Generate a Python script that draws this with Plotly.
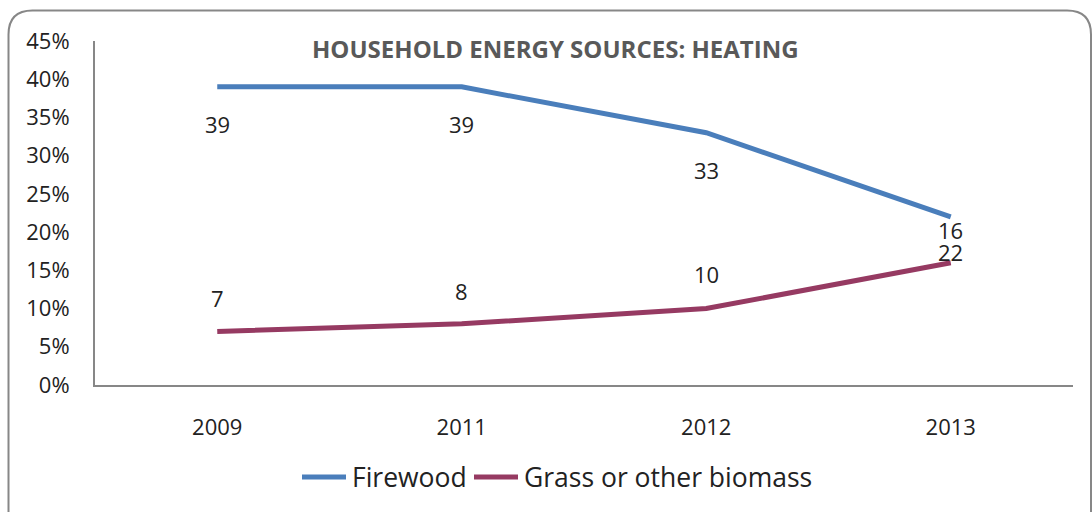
import plotly.graph_objects as go

years = ['2009', '2011', '2012', '2013']
firewood = [39, 39, 33, 22]
grass = [7, 8, 10, 16]
# data labels as printed on the original chart (the 2013 pair is swapped there)
firewood_labels = ['39', '39', '33', '16']
grass_labels = ['7', '8', '10', '22']
series_names = ['Firewood', 'Grass or other biomass']

W, H = 1092, 512
L, R, T, B = 95, 19, 41, 127
FONT = 'Open Sans'
BLUE = '#4A7EBB'
PLUM = '#963A62'
TXT = '#222222'

fig = go.Figure()
fig.add_trace(go.Scatter(x=years, y=[v / 100 for v in firewood], name=series_names[0],
                         mode='lines', line=dict(color=BLUE, width=5), showlegend=False))
fig.add_trace(go.Scatter(x=years, y=[v / 100 for v in grass], name=series_names[1],
                         mode='lines', line=dict(color=PLUM, width=5), showlegend=False))

# label offsets (pixels) - below for firewood, above for grass
fw_shift = [-37, -37, -37, -13]
gr_shift = [33, 33, 35, 11]
for i in range(len(years)):
    fig.add_annotation(x=i, y=firewood[i] / 100, text=firewood_labels[i], showarrow=False,
                       yshift=fw_shift[i], font=dict(size=22, color=TXT, family=FONT))
    fig.add_annotation(x=i, y=grass[i] / 100, text=grass_labels[i], showarrow=False,
                       yshift=gr_shift[i], font=dict(size=22, color=TXT, family=FONT))

pw, ph = W - L - R, H - T - B
def px(x):
    return (x - L) / pw
def py(y):
    return (H - B - y) / ph

fig.add_annotation(text='<b>HOUSEHOLD ENERGY SOURCES: HEATING</b>', xref='paper', yref='paper',
                   x=px(555), y=py(48), yanchor='middle', xanchor='center', showarrow=False,
                   font=dict(size=24, color='#595959', family=FONT))

# legend drawn by hand so it does not push the plot margins
legend_y = 477
for (x_start, name, col) in [(300, series_names[0], BLUE), (472, series_names[1], PLUM)]:
    fig.add_shape(type='line', xref='paper', yref='paper',
                  x0=px(x_start + 2), x1=px(x_start + 46), y0=py(legend_y), y1=py(legend_y),
                  line=dict(color=col, width=5))
    fig.add_annotation(text=name, xref='paper', yref='paper', x=px(x_start + 50), y=py(legend_y),
                       xanchor='left', yanchor='middle', showarrow=False,
                       font=dict(size=26.5, color=TXT, family=FONT))

# rounded outer border
r = 24
x0, x1, y0, y1 = 8.5, 1091, 10.5, 560
path = (f'M {px(x0)},{py(y1)} L {px(x0)},{py(y0 + r)} Q {px(x0)},{py(y0)} {px(x0 + r)},{py(y0)} '
        f'L {px(x1 - r)},{py(y0)} Q {px(x1)},{py(y0)} {px(x1)},{py(y0 + r)} L {px(x1)},{py(y1)}')
fig.add_shape(type='path', path=path, xref='paper', yref='paper',
              line=dict(color='#878787', width=2), layer='below')

fig.update_layout(
    width=W, height=H,
    margin=dict(l=L, r=R, t=T, b=B),
    plot_bgcolor='white', paper_bgcolor='white',
    font=dict(family=FONT, size=22, color=TXT),
    showlegend=False,
    xaxis=dict(type='category', range=[-0.5, len(years) - 0.5], showgrid=False,
               showline=True, linecolor='#878787', linewidth=2,
               ticks='', ticklabelstandoff=22, tickfont=dict(size=22), automargin=False),
    yaxis=dict(range=[0, 0.45], dtick=0.05, tickformat='.0%', showgrid=False,
               showline=True, linecolor='#878787', linewidth=2, zeroline=False,
               ticks='', ticklabelstandoff=19, tickfont=dict(size=22), automargin=False),
)

fig.write_html('out.html', config={'displayModeBar': False},
               post_script="document.body.style.margin='0';")
